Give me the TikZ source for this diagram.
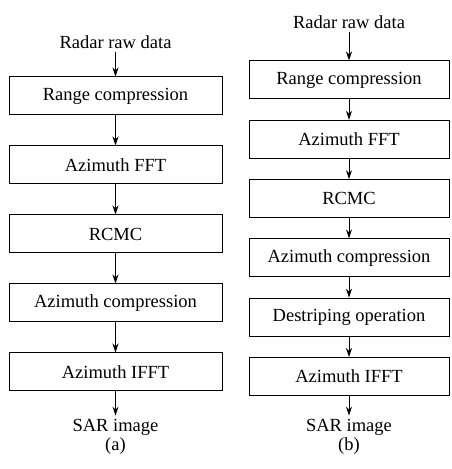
\documentclass[tikz,border=0pt]{standalone}
\usepackage{fontspec}
\setmainfont{Liberation Serif}
\usetikzlibrary{positioning,arrows.meta}

\begin{document}
\begin{tikzpicture}[x=1pt,y=1pt,on grid,node distance=69pt,
	every node/.style={font=\fontsize{18.5}{20}\selectfont},
	blk/.style={draw,line width=1pt,minimum height=38pt,inner sep=0pt},
	io/.style={inner sep=3pt},
	flow/.style={-{Stealth[length=9pt,width=6pt]},line width=1pt}]
	\useasboundingbox (0,0) rectangle (452,469);
	% (a) classical processing chain
	\node[io] (a_0) at (115.5,427) {Radar raw data};
	\node[blk,minimum width=213pt] (a_1) [below=54pt of a_0] {Range compression};
	\node[blk,minimum width=213pt] (a_2) [below=of a_1] {Azimuth FFT};
	\node[blk,minimum width=213pt] (a_3) [below=of a_2] {RCMC};
	\node[blk,minimum width=213pt] (a_4) [below=of a_3] {Azimuth compression};
	\node[blk,minimum width=213pt] (a_5) [below=of a_4] {Azimuth IFFT};
	\node[io] (a_6) [below=55pt of a_5] {SAR image};
	\node (a_cap) [below=19pt of a_6] {(a)};
	\path[flow]
	(a_0) edge (a_1)
	(a_1) edge (a_2)
	(a_2) edge (a_3)
	(a_3) edge (a_4)
	(a_4) edge (a_5)
	(a_5) edge (a_6);
	% (b) with destriping
	\begin{scope}[node distance=59.3pt]
		\node[io] (b_0) at (349,447) {Radar raw data};
		\node[blk,minimum width=200pt] (b_1) [below=58pt of b_0] {Range compression};
		\node[blk,minimum width=200pt] (b_2) [below=of b_1] {Azimuth FFT};
		\node[blk,minimum width=200pt] (b_3) [below=of b_2] {RCMC};
		\node[blk,minimum width=200pt] (b_4) [below=of b_3] {Azimuth compression};
		\node[blk,minimum width=200pt] (b_5) [below=of b_4] {Destriping operation};
		\node[blk,minimum width=200pt] (b_6) [below=of b_5] {Azimuth IFFT};
		\node[io] (b_7) [below=50.5pt of b_6] {SAR image};
		\node (b_cap) [below=19pt of b_7] {(b)};
	\end{scope}
	\path[flow]
	(b_0) edge (b_1)
	(b_1) edge (b_2)
	(b_2) edge (b_3)
	(b_3) edge (b_4)
	(b_4) edge (b_5)
	(b_5) edge (b_6)
	(b_6) edge (b_7);
\end{tikzpicture}
\end{document}
